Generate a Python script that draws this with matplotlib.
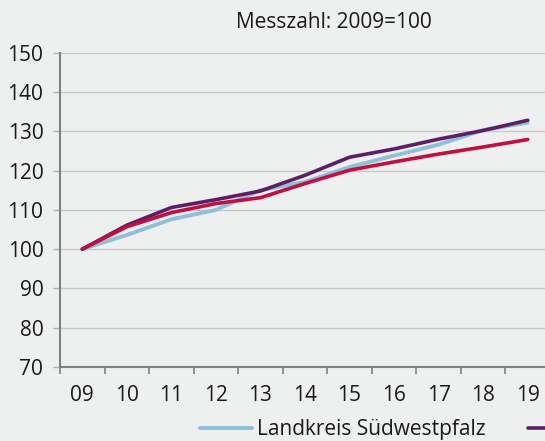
import matplotlib
matplotlib.use("Agg")
import matplotlib.pyplot as plt

# Messzahl 2009 = 100
years = ["09", "10", "11", "12", "13", "14", "15", "16", "17", "18", "19"]
swp = [100, 103.6, 107.6, 110.0, 115.0, 117.1, 120.9, 123.8, 126.6, 130.3, 132.2]
rlp = [100, 106.1, 110.6, 112.6, 114.8, 118.8, 123.4, 125.5, 128.0, 130.2, 132.8]
de = [100, 105.7, 109.3, 111.6, 113.1, 116.7, 120.1, 122.2, 124.2, 126.0, 127.9]
# only the first legend label is visible, the next entry is cut at the right edge
labels = ["Landkreis Südwestpfalz", ""]
y_ticks = [70, 80, 90, 100, 110, 120, 130, 140, 150]

bg = "#eeefef"
txt = "#1a1a1a"
plt.rcParams["font.family"] = ["Open Sans", "DejaVu Sans"]

fig = plt.figure(figsize=(5.45, 4.41), dpi=100, facecolor=bg)
ax = fig.add_axes([60 / 545, 74 / 441, 490 / 545, 314.3 / 441])
ax.set_facecolor(bg)

x = range(len(years))
l1, = ax.plot(x, swp, color="#8cc1d9", lw=2.8, solid_capstyle="round", zorder=3)
l2, = ax.plot(x, rlp, color="#5c1f67", lw=2.6, solid_capstyle="round", zorder=4)
l3, = ax.plot(x, de, color="#c20f40", lw=2.6, solid_capstyle="round", zorder=5)

ax.set_xlim(-0.5, len(years) - 0.5)
ax.set_ylim(70, 150)
ax.set_yticks(y_ticks)
ax.set_yticklabels([str(v) for v in y_ticks], fontsize=15, color=txt)
ax.set_xticks(list(x))
ax.set_xticklabels(years, fontsize=15, color=txt)
ax.set_xticks([i - 0.5 for i in range(len(years) + 1)], minor=True)
ax.tick_params(axis="x", which="major", length=0, pad=13)
ax.tick_params(axis="x", which="minor", length=5, width=1.2, color="#808080")
ax.tick_params(axis="y", length=5, width=1, color="#b0b0b0", pad=7)

ax.grid(axis="y", color="#c8c8c8", lw=1.0, zorder=0)
for s in ["top", "right"]:
    ax.spines[s].set_visible(False)
for s in ["left", "bottom"]:
    ax.spines[s].set_color("#808080")
    ax.spines[s].set_linewidth(1.5)

fig.text(334 / 545, 1 - 23 / 441, "Messzahl: 2009=100", ha="center", va="center",
         fontsize=15, color=txt)

fig.legend([l1, l2], labels, loc="center left",
           bbox_to_anchor=(200 / 545, 1 - 430 / 441), ncol=2, frameon=False,
           fontsize=15, handlelength=2.5, handletextpad=0.25, columnspacing=2.0,
           borderaxespad=0, borderpad=0, labelcolor=txt)

fig.savefig("out.png", dpi=100, facecolor=bg)
